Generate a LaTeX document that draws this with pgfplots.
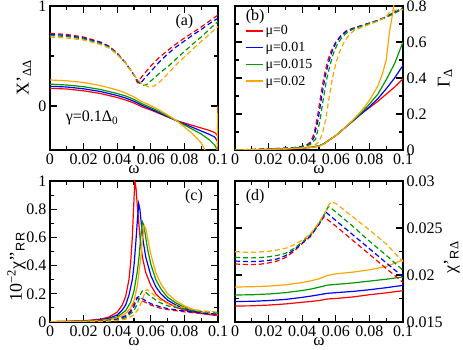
\documentclass[border=0pt]{standalone}
\usepackage{fontspec}
\setmainfont{Liberation Serif}
\newfontfamily\sansf{Liberation Sans}
\usepackage{pgfplots}
\pgfplotsset{compat=1.18}
\definecolor{cred}{HTML}{FF0000}
\definecolor{cblue}{HTML}{0000FF}
\definecolor{cgreen}{HTML}{009A00}
\definecolor{corange}{HTML}{FFA500}

\tikzset{tag/.style={font=\fontsize{16}{16}\selectfont},
  ylab/.style={rotate=90, font=\fontsize{18}{18}\selectfont}}
\pgfplotsset{
  panel/.style={
    scale only axis, width=168pt, anchor=south west,
    clip mode=individual,
    xmin=0, xmax=0.1,
    xtick={0,0.02,0.04,0.06,0.08,0.1},
    xticklabels={0,0.02,0.04,0.06,0.08,0.1},
    minor xtick={0.01,0.03,0.05,0.07,0.09},
    scaled ticks=false,
    tick label style={font=\fontsize{16}{16}\selectfont},
    label style={font=\fontsize{17}{17}\selectfont},
    major tick length=7pt, minor tick length=4pt,
    tick style={black, line width=1.1pt},
    axis line style={line width=1.4pt},
    xlabel={ω},
    xlabel style={inner sep=0pt, yshift=2pt},
    no markers,
  },
  sol/.style={line width=1.2pt},
  dsh/.style={line width=1.2pt, dash pattern=on 5pt off 3pt},
}

\begin{document}
\begin{tikzpicture}
\useasboundingbox (0,0) rectangle (463pt,350pt);

% ---------------- (a)
\begin{axis}[panel, at={(50pt,200pt)}, height=144pt,
  ymin=-0.44, ymax=1, ytick={0,1}, yticklabels={0,1}, minor ytick={0.5}]
\addplot[dsh, cred] coordinates {(0,0.727)(0.01,0.715)(0.02,0.69)(0.03,0.64)(0.035,0.6)(0.04,0.53)(0.045,0.43)(0.048,0.36)(0.05,0.31)(0.052,0.235)(0.055,0.3)(0.06,0.4)(0.065,0.485)(0.07,0.555)(0.075,0.62)(0.08,0.68)(0.085,0.735)(0.09,0.79)(0.095,0.85)(0.1,0.91)};
\addplot[dsh, cblue] coordinates {(0,0.717)(0.01,0.705)(0.02,0.68)(0.03,0.635)(0.035,0.595)(0.04,0.525)(0.045,0.43)(0.048,0.36)(0.05,0.31)(0.052,0.255)(0.0535,0.22)(0.056,0.27)(0.06,0.345)(0.065,0.44)(0.07,0.52)(0.075,0.59)(0.08,0.65)(0.085,0.71)(0.09,0.765)(0.095,0.825)(0.1,0.878)};
\addplot[dsh, cgreen] coordinates {(0,0.705)(0.01,0.695)(0.02,0.67)(0.03,0.625)(0.035,0.59)(0.04,0.52)(0.045,0.43)(0.048,0.36)(0.05,0.31)(0.052,0.26)(0.054,0.225)(0.056,0.205)(0.058,0.22)(0.062,0.28)(0.066,0.34)(0.07,0.39)(0.075,0.47)(0.08,0.545)(0.085,0.62)(0.09,0.69)(0.095,0.77)(0.1,0.845)};
\addplot[dsh, corange] coordinates {(0,0.69)(0.01,0.68)(0.02,0.66)(0.03,0.615)(0.035,0.58)(0.04,0.515)(0.045,0.43)(0.048,0.36)(0.05,0.31)(0.053,0.25)(0.056,0.21)(0.059,0.19)(0.062,0.2)(0.066,0.25)(0.07,0.32)(0.075,0.41)(0.08,0.49)(0.085,0.57)(0.09,0.645)(0.095,0.72)(0.1,0.795)};
\addplot[sol, cred] coordinates {(0,0.177)(0.01,0.17)(0.02,0.152)(0.03,0.125)(0.04,0.085)(0.045,0.06)(0.05,0.03)(0.055,-0.01)(0.06,-0.04)(0.065,-0.075)(0.07,-0.11)(0.0754,-0.147)(0.08,-0.17)(0.085,-0.195)(0.09,-0.22)(0.095,-0.245)(0.098,-0.265)(0.1,-0.3)};
\addplot[sol, cblue] coordinates {(0,0.197)(0.01,0.19)(0.02,0.172)(0.03,0.145)(0.04,0.105)(0.045,0.08)(0.05,0.047)(0.055,0.005)(0.06,-0.03)(0.065,-0.068)(0.07,-0.105)(0.0754,-0.147)(0.08,-0.18)(0.085,-0.215)(0.09,-0.25)(0.095,-0.285)(0.098,-0.31)(0.1,-0.36)};
\addplot[sol, cgreen] coordinates {(0,0.218)(0.01,0.21)(0.02,0.193)(0.03,0.165)(0.04,0.125)(0.045,0.1)(0.05,0.065)(0.055,0.02)(0.06,-0.015)(0.065,-0.055)(0.07,-0.1)(0.0754,-0.147)(0.08,-0.19)(0.085,-0.235)(0.09,-0.28)(0.095,-0.34)(0.098,-0.39)(0.1,-0.45)};
\addplot[sol, corange] coordinates {(0,0.26)(0.01,0.252)(0.02,0.235)(0.03,0.205)(0.04,0.16)(0.045,0.13)(0.05,0.09)(0.055,0.04)(0.06,0.005)(0.065,-0.04)(0.07,-0.09)(0.0754,-0.147)(0.08,-0.21)(0.085,-0.28)(0.09,-0.37)(0.0923,-0.44)(0.095,-0.55)(0.0985,-1.2)(0.1,0.0)};
\node[tag] at (rel axis cs:0.8,0.89) {(a)};
\node[tag] at (rel axis cs:0.25,0.22) {γ=0.1Δ\textsubscript{0}};
\node[ylab] at (rel axis cs:-0.155,0.5) {X{'}\textsubscript{ΔΔ}};
\end{axis}

% ---------------- (b)
\begin{axis}[panel, at={(235pt,200pt)}, height=144pt,
  ymin=0, ymax=0.8, ytick={0,0.2,0.4,0.6,0.8}, yticklabels={0,0.2,0.4,0.6,0.8},
  minor ytick={0.1,0.3,0.5,0.7}, yticklabel pos=right,
  legend style={draw=none, fill=none, at={(0.04,0.895)}, anchor=north west,
    font=\fontsize{14}{14}\selectfont, row sep=2pt},
  legend image post style={line width=1.6pt},
  legend cell align=left]
\addplot[sol, cred] coordinates {(0,0)(0.01,0.001)(0.02,0.003)(0.03,0.006)(0.04,0.011)(0.045,0.015)(0.05,0.022)(0.053,0.035)(0.056,0.055)(0.06,0.08)(0.065,0.12)(0.07,0.16)(0.075,0.2)(0.08,0.235)(0.085,0.27)(0.09,0.31)(0.095,0.35)(0.1,0.395)};
\addlegendentry{μ=0}
\addplot[sol, cblue] coordinates {(0,0)(0.01,0.001)(0.02,0.003)(0.03,0.006)(0.04,0.011)(0.045,0.015)(0.05,0.022)(0.053,0.035)(0.056,0.055)(0.06,0.08)(0.065,0.12)(0.07,0.16)(0.075,0.2)(0.08,0.24)(0.085,0.285)(0.09,0.34)(0.095,0.4)(0.1,0.47)};
\addlegendentry{μ=0.01}
\addplot[sol, cgreen] coordinates {(0,0)(0.01,0.001)(0.02,0.003)(0.03,0.006)(0.04,0.011)(0.045,0.015)(0.05,0.022)(0.053,0.035)(0.056,0.055)(0.06,0.08)(0.065,0.12)(0.07,0.162)(0.075,0.205)(0.08,0.255)(0.085,0.31)(0.09,0.39)(0.095,0.48)(0.1,0.6)};
\addlegendentry{μ=0.015}
\addplot[sol, corange] coordinates {(0,0)(0.01,0.001)(0.02,0.003)(0.03,0.006)(0.04,0.01)(0.045,0.013)(0.05,0.02)(0.053,0.033)(0.056,0.055)(0.06,0.08)(0.065,0.12)(0.07,0.165)(0.075,0.215)(0.08,0.275)(0.085,0.355)(0.088,0.43)(0.09,0.5)(0.092,0.66)(0.0935,0.74)(0.095,0.83)(0.097,0.95)};
\addlegendentry{μ=0.02}
\addplot[dsh, cred] coordinates {(0,0)(0.01,0.003)(0.02,0.006)(0.03,0.01)(0.035,0.013)(0.04,0.02)(0.043,0.03)(0.045,0.045)(0.047,0.09)(0.049,0.18)(0.051,0.3)(0.053,0.41)(0.055,0.49)(0.057,0.545)(0.06,0.6)(0.063,0.635)(0.066,0.66)(0.07,0.675)(0.075,0.69)(0.08,0.705)(0.085,0.72)(0.09,0.74)(0.095,0.765)(0.1,0.79)};
\addplot[dsh, cblue] coordinates {(0,0)(0.01,0.003)(0.02,0.006)(0.03,0.01)(0.035,0.013)(0.04,0.019)(0.043,0.027)(0.045,0.038)(0.047,0.07)(0.0495,0.17)(0.0515,0.29)(0.0535,0.4)(0.0555,0.48)(0.0575,0.54)(0.06,0.595)(0.063,0.633)(0.066,0.658)(0.07,0.675)(0.075,0.69)(0.08,0.705)(0.085,0.72)(0.09,0.74)(0.095,0.765)(0.1,0.79)};
\addplot[dsh, cgreen] coordinates {(0,0)(0.01,0.003)(0.02,0.005)(0.03,0.009)(0.035,0.012)(0.04,0.017)(0.043,0.024)(0.045,0.032)(0.048,0.06)(0.0505,0.16)(0.0525,0.28)(0.0545,0.39)(0.0565,0.47)(0.0585,0.535)(0.061,0.59)(0.064,0.63)(0.067,0.655)(0.07,0.67)(0.075,0.687)(0.08,0.703)(0.085,0.718)(0.09,0.737)(0.095,0.76)(0.1,0.785)};
\addplot[dsh, corange] coordinates {(0,0)(0.01,0.002)(0.02,0.004)(0.03,0.007)(0.04,0.012)(0.045,0.02)(0.048,0.03)(0.05,0.045)(0.052,0.09)(0.054,0.17)(0.056,0.29)(0.058,0.4)(0.06,0.48)(0.062,0.54)(0.065,0.6)(0.068,0.64)(0.071,0.665)(0.075,0.68)(0.08,0.698)(0.085,0.715)(0.09,0.74)(0.092,0.765)(0.094,0.775)(0.1,0.78)};
\node[tag] at (rel axis cs:0.12,0.925) {(b)};
\node[ylab] at (rel axis cs:1.25,0.5) {Γ\textsubscript{Δ}};
\end{axis}

% ---------------- (c)
\begin{axis}[panel, at={(50pt,28pt)}, height=141pt,
  ymin=0, ymax=1, ytick={0,0.2,0.4,0.6,0.8,1}, yticklabels={0,0.2,0.4,0.6,0.8,1},
  minor ytick={0.1,0.3,0.5,0.7,0.9}]
\addplot[sol, cred] coordinates {(0,0.002)(0.01,0.004)(0.02,0.008)(0.03,0.02)(0.035,0.035)(0.04,0.07)(0.043,0.12)(0.045,0.18)(0.047,0.3)(0.048,0.42)(0.049,0.6)(0.0498,0.82)(0.0505,1.0)(0.0512,0.95)(0.052,0.82)(0.053,0.68)(0.054,0.55)(0.055,0.46)(0.057,0.35)(0.06,0.26)(0.063,0.2)(0.066,0.165)(0.07,0.135)(0.075,0.105)(0.08,0.085)(0.085,0.07)(0.09,0.06)(0.095,0.052)(0.1,0.045)};
\addplot[sol, cblue] coordinates {(0,0.002)(0.02,0.007)(0.03,0.015)(0.035,0.027)(0.04,0.05)(0.043,0.085)(0.045,0.12)(0.047,0.19)(0.049,0.3)(0.05,0.4)(0.051,0.55)(0.052,0.72)(0.0528,0.84)(0.0535,0.8)(0.0545,0.68)(0.0555,0.57)(0.057,0.46)(0.06,0.33)(0.063,0.25)(0.066,0.2)(0.07,0.155)(0.075,0.12)(0.08,0.095)(0.085,0.078)(0.09,0.065)(0.095,0.056)(0.1,0.05)};
\addplot[sol, cgreen] coordinates {(0,0.002)(0.02,0.006)(0.03,0.012)(0.035,0.02)(0.04,0.036)(0.045,0.08)(0.048,0.14)(0.05,0.22)(0.052,0.36)(0.053,0.46)(0.054,0.6)(0.055,0.71)(0.0558,0.69)(0.057,0.6)(0.058,0.52)(0.06,0.41)(0.063,0.3)(0.066,0.235)(0.07,0.175)(0.075,0.135)(0.08,0.105)(0.085,0.085)(0.09,0.07)(0.095,0.06)(0.1,0.053)};
\addplot[sol, corange] coordinates {(0,0.002)(0.02,0.005)(0.03,0.01)(0.035,0.016)(0.04,0.028)(0.045,0.06)(0.048,0.1)(0.05,0.15)(0.052,0.26)(0.054,0.45)(0.055,0.58)(0.056,0.68)(0.057,0.67)(0.058,0.6)(0.06,0.48)(0.063,0.35)(0.066,0.27)(0.07,0.2)(0.075,0.15)(0.08,0.115)(0.085,0.09)(0.09,0.072)(0.095,0.06)(0.1,0.05)};
\addplot[dsh, cred] coordinates {(0,0.001)(0.03,0.005)(0.04,0.02)(0.045,0.045)(0.048,0.08)(0.05,0.13)(0.0515,0.17)(0.053,0.165)(0.055,0.15)(0.06,0.12)(0.065,0.1)(0.07,0.088)(0.08,0.072)(0.09,0.06)(0.1,0.052)};
\addplot[dsh, cblue] coordinates {(0,0.001)(0.03,0.005)(0.04,0.018)(0.045,0.04)(0.048,0.07)(0.05,0.11)(0.052,0.175)(0.053,0.18)(0.055,0.165)(0.06,0.13)(0.065,0.11)(0.07,0.095)(0.08,0.077)(0.09,0.064)(0.1,0.055)};
\addplot[dsh, cgreen] coordinates {(0,0.001)(0.03,0.004)(0.04,0.014)(0.045,0.03)(0.05,0.08)(0.052,0.13)(0.054,0.2)(0.055,0.22)(0.057,0.21)(0.06,0.18)(0.065,0.14)(0.07,0.115)(0.08,0.09)(0.09,0.075)(0.1,0.065)};
\addplot[dsh, corange] coordinates {(0,0.001)(0.03,0.003)(0.04,0.01)(0.045,0.02)(0.05,0.05)(0.053,0.1)(0.055,0.16)(0.057,0.225)(0.058,0.23)(0.06,0.21)(0.065,0.16)(0.07,0.13)(0.08,0.1)(0.09,0.08)(0.1,0.07)};
\node[tag] at (rel axis cs:0.857,0.89) {(c)};
\node[ylab] at (rel axis cs:-0.2,0.39) {10\textsuperscript{−2}χ{'}{'}\textsubscript{\sansf RR}};
\end{axis}

% ---------------- (d)
\begin{axis}[panel, at={(235pt,28pt)}, height=141pt,
  ymin=0.015, ymax=0.03, ytick={0.015,0.02,0.025,0.03}, yticklabels={0.015,0.02,0.025,0.03},
  minor ytick={0.0175,0.0225,0.0275}, yticklabel pos=right]
\addplot[sol, cred] coordinates {(0,0.0167)(0.01,0.01672)(0.02,0.0168)(0.03,0.01692)(0.04,0.0171)(0.045,0.01718)(0.05,0.01728)(0.055,0.01745)(0.06,0.0175)(0.07,0.01766)(0.08,0.0179)(0.09,0.0181)(0.1,0.01833)};
\addplot[sol, cblue] coordinates {(0,0.01718)(0.01,0.0172)(0.02,0.01728)(0.03,0.0174)(0.04,0.01762)(0.045,0.01775)(0.05,0.0179)(0.055,0.01805)(0.06,0.01812)(0.07,0.01825)(0.08,0.01843)(0.09,0.01865)(0.1,0.0189)};
\addplot[sol, cgreen] coordinates {(0,0.01787)(0.01,0.0179)(0.02,0.01798)(0.03,0.01812)(0.04,0.01835)(0.045,0.0185)(0.05,0.0187)(0.055,0.01892)(0.06,0.019)(0.07,0.01915)(0.08,0.01935)(0.09,0.01955)(0.1,0.0198)};
\addplot[sol, corange] coordinates {(0,0.01872)(0.01,0.01875)(0.02,0.01882)(0.03,0.01895)(0.04,0.0192)(0.045,0.01937)(0.05,0.0196)(0.055,0.01995)(0.06,0.02012)(0.07,0.0203)(0.08,0.02055)(0.09,0.0209)(0.1,0.0216)};
\addplot[dsh, cred] coordinates {(0,0.02117)(0.005,0.02113)(0.01,0.02112)(0.015,0.02115)(0.02,0.02128)(0.025,0.02148)(0.03,0.02185)(0.035,0.0225)(0.04,0.02335)(0.045,0.0241)(0.048,0.0249)(0.05,0.0254)(0.052,0.02595)(0.053,0.0262)(0.055,0.0259)(0.06,0.0252)(0.07,0.0237)(0.08,0.0222)(0.09,0.0207)(0.1,0.0192)};
\addplot[dsh, cblue] coordinates {(0,0.02149)(0.005,0.02144)(0.01,0.02143)(0.015,0.02146)(0.02,0.02155)(0.025,0.0217)(0.03,0.02205)(0.035,0.02265)(0.04,0.0234)(0.045,0.0242)(0.048,0.0249)(0.05,0.0254)(0.052,0.026)(0.054,0.0267)(0.056,0.0264)(0.06,0.0258)(0.07,0.0243)(0.08,0.0228)(0.09,0.0213)(0.1,0.0198)};
\addplot[dsh, cgreen] coordinates {(0,0.02188)(0.005,0.02183)(0.01,0.02182)(0.015,0.02185)(0.02,0.02194)(0.025,0.02208)(0.03,0.0223)(0.035,0.0228)(0.04,0.0235)(0.045,0.0243)(0.048,0.025)(0.05,0.0255)(0.052,0.0261)(0.054,0.0267)(0.0556,0.0273)(0.058,0.027)(0.06,0.0267)(0.07,0.0252)(0.08,0.0236)(0.09,0.0221)(0.1,0.0205)};
\addplot[dsh, corange] coordinates {(0,0.02248)(0.005,0.02243)(0.01,0.02242)(0.015,0.02245)(0.02,0.02253)(0.025,0.02265)(0.03,0.02283)(0.035,0.0232)(0.04,0.0237)(0.045,0.0244)(0.048,0.0251)(0.05,0.0256)(0.052,0.0262)(0.054,0.0268)(0.056,0.0275)(0.0575,0.0278)(0.06,0.0276)(0.065,0.0269)(0.07,0.0262)(0.08,0.0248)(0.09,0.0233)(0.1,0.0214)};
\node[tag] at (rel axis cs:0.12,0.89) {(d)};
\node[ylab] at (rel axis cs:1.29,0.46) {χ{'}\textsubscript{\sansf R}\textsubscript{Δ}};
\end{axis}
\end{tikzpicture}
\end{document}
